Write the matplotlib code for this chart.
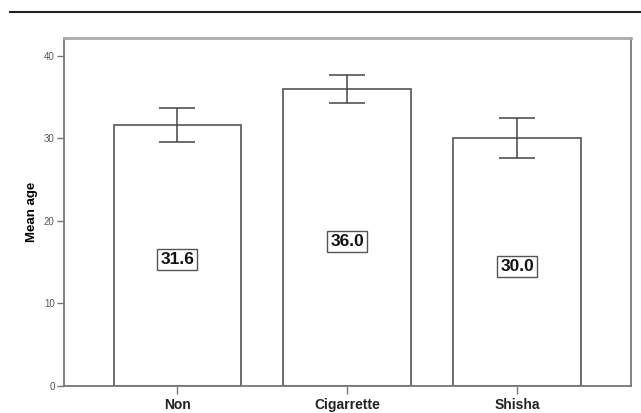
import matplotlib
matplotlib.use("Agg")
import matplotlib.pyplot as plt
from matplotlib.lines import Line2D

categories = ["Non", "Cigarrette", "Shisha"]
means = [31.6, 36.0, 30.0]
ci_low = [29.5, 34.3, 27.6]
ci_high = [33.7, 37.7, 32.4]
labels = ["31.6", "36.0", "30.0"]
yticks = [0, 10, 20, 30, 40]

plt.rcParams['font.family'] = ['Liberation Sans', 'DejaVu Sans']

fig = plt.figure(figsize=(6.41, 4.13), dpi=100)
ax = fig.add_axes([0.1003, 0.0654, 0.8841, 0.8419])

x = list(range(len(categories)))
ax.bar(x, means, width=0.75, color="white", edgecolor="#555555", linewidth=1.2, zorder=2)
yerr = [[m - l for m, l in zip(means, ci_low)], [h - m for m, h in zip(means, ci_high)]]
ax.errorbar(x, means, yerr=yerr, fmt="none", ecolor="#444444", elinewidth=1.1,
            capsize=13.3, capthick=1.1, zorder=3)

for xi, m, lab in zip(x, means, labels):
    ax.annotate(lab, (xi, m / 2), xytext=(0, -3), textcoords="offset points",
                ha="center", va="center", fontsize=12.5, fontweight="bold", color="#111111",
                bbox=dict(boxstyle="square,pad=0.18", facecolor="white", edgecolor="#555555", linewidth=1.0),
                zorder=4)

ax.set_xlim(-0.665, 2.67)
ax.set_ylim(0, 42.1)
ax.set_yticks(yticks)
ax.set_yticklabels([str(t) for t in yticks], fontsize=7, color="#555555")
ax.set_xticks(x)
ax.set_xticklabels(categories, fontsize=10, fontweight="bold", color="#222222")
ax.tick_params(axis="y", length=5, width=1.0, color="#777777", pad=2)
ax.tick_params(axis="x", length=6, width=1.0, color="#777777", pad=2.5)
ax.set_ylabel("Mean age", fontsize=9.5, fontweight="bold", family=['Liberation Sans Narrow', 'Liberation Sans'], labelpad=4)

for side in ["left", "bottom", "right"]:
    ax.spines[side].set_color("#777777")
    ax.spines[side].set_linewidth(1.3)
ax.spines["top"].set_color("#aaaaaa")
ax.spines["top"].set_linewidth(2.0)

fig.add_artist(Line2D([0.0156, 1.0], [0.971, 0.971], color="#222222", linewidth=1.5))

fig.savefig("out.png", dpi=100)
